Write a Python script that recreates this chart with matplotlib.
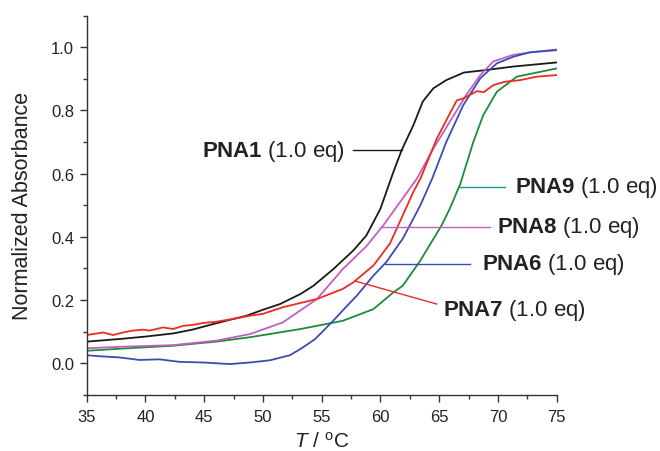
import numpy as np
import matplotlib
matplotlib.use("Agg")
import matplotlib.pyplot as plt
from matplotlib.ticker import MultipleLocator

plt.rcParams['font.family'] = ['Liberation Sans', 'DejaVu Sans']
plt.rcParams['mathtext.fontset'] = 'custom'
plt.rcParams['mathtext.rm'] = 'Liberation Sans'
plt.rcParams['mathtext.it'] = 'Liberation Sans:italic'
plt.rcParams['mathtext.bf'] = 'Liberation Sans:bold'

# ---- data ----
t_pna1 = [35, 38, 40, 42.35, 44, 45.8, 47.5, 48.6, 50, 51.45, 53.2, 54.3, 56.0, 57.7, 58.8, 60.0,
          61.1, 61.8, 62.8, 63.6, 64.5, 65.6, 67.1, 69.0, 71.3, 75]
v_pna1 = [0.068, 0.077, 0.084, 0.094, 0.106, 0.124, 0.140, 0.150, 0.169, 0.187, 0.219, 0.245, 0.298,
          0.357, 0.404, 0.489, 0.605, 0.674, 0.753, 0.828, 0.870, 0.896, 0.920, 0.928, 0.939, 0.952]

t_pna7 = [35, 35.54, 36.39, 37.24, 38.09, 38.94, 39.79, 40.36, 41.49, 42.34, 43.2, 44.05, 44.9,
          46.03, 47.45, 48.87, 50.0, 51.7, 54.6, 56.8, 57.7, 59.4, 60.8, 61.9, 62.8, 63.4, 64.8,
          65.9, 66.5, 67.05, 68.2, 68.8, 69.6, 70.6, 71.9, 73.3, 75]
v_pna7 = [0.089, 0.092, 0.097, 0.089, 0.097, 0.103, 0.106, 0.103, 0.113, 0.108, 0.118, 0.121, 0.127,
          0.131, 0.140, 0.150, 0.156, 0.177, 0.203, 0.235, 0.256, 0.309, 0.378, 0.468, 0.542, 0.584,
          0.711, 0.790, 0.832, 0.838, 0.861, 0.858, 0.880, 0.891, 0.896, 0.907, 0.912]

t_pna8 = [35, 38, 42.35, 46, 48.9, 51.7, 54.6, 56.8, 58.8, 60.24, 63.1, 64.5, 65.9, 67.3, 68.5,
          69.6, 71.3, 73, 75]
v_pna8 = [0.047, 0.052, 0.057, 0.071, 0.092, 0.129, 0.203, 0.298, 0.370, 0.436, 0.584, 0.679, 0.764,
          0.849, 0.912, 0.955, 0.976, 0.985, 0.993]

t_pna9 = [35, 38, 42.35, 46, 48.9, 53.2, 56.8, 59.4, 61.1, 61.9, 62.5, 63.4, 65.2, 65.9, 66.8, 67.9,
          68.75, 69.9, 71.6, 75]
v_pna9 = [0.039, 0.046, 0.055, 0.068, 0.082, 0.108, 0.134, 0.171, 0.224, 0.245, 0.277, 0.325, 0.436,
          0.489, 0.568, 0.700, 0.785, 0.859, 0.907, 0.933]

t_pna6 = [35, 36, 37.8, 39.5, 41.2, 42.9, 44.9, 47.2, 48.9, 50.6, 52.3, 53.2, 54.4, 55.0, 56.0, 57.0,
          58.0, 59.4, 60.5, 61.9, 63.4, 64.4, 65.6, 67.05, 68.5, 69.9, 71.3, 72.7, 75]
v_pna6 = [0.025, 0.022, 0.018, 0.010, 0.012, 0.004, 0.002, -0.003, 0.002, 0.009, 0.025, 0.045, 0.075,
          0.097, 0.135, 0.175, 0.214, 0.277, 0.320, 0.394, 0.500, 0.584, 0.700, 0.817, 0.902, 0.949,
          0.970, 0.984, 0.991]

x_ticks = [35, 40, 45, 50, 55, 60, 65, 70, 75]
y_ticks = [0.0, 0.2, 0.4, 0.6, 0.8, 1.0]

# ---- figure ----
fig = plt.figure(figsize=(6.6, 4.52), dpi=100)
ax = fig.add_axes([86.7 / 660, 56.3 / 452, 470 / 660, 379 / 452])

c_black = '#1a1a1a'
c_red = '#ee2b22'
c_pink = '#c060c0'
c_green = '#1e8a3a'
c_blue = '#3a4db4'
c_teal = '#1a9a8c'
lw = 1.3

ax.plot(t_pna1, v_pna1, color=c_black, lw=lw)
ax.plot(t_pna9, v_pna9, color=c_green, lw=lw)
ax.plot(t_pna8, v_pna8, color=c_pink, lw=lw)
ax.plot(t_pna6, v_pna6, color=c_blue, lw=lw)
ax.plot(t_pna7, v_pna7, color=c_red, lw=lw)

ax.set_xlim(35, 75)
ax.set_ylim(-0.1, 1.1)
ax.set_xticks(x_ticks)
ax.set_yticks(y_ticks)
ax.set_xticklabels([str(t) for t in x_ticks])
ax.set_yticklabels([f"{v:.1f}" for v in y_ticks])
ax.xaxis.set_minor_locator(MultipleLocator(2.5))
ax.yaxis.set_minor_locator(MultipleLocator(0.1))

spine_c = '#333333'
for s in ['top', 'right']:
    ax.spines[s].set_visible(False)
for s in ['left', 'bottom']:
    ax.spines[s].set_color(spine_c)
    ax.spines[s].set_linewidth(1.0)
ax.tick_params(which='major', direction='out', length=5, width=1.0, color=spine_c,
               labelsize=12, labelcolor='#222222')
ax.tick_params(axis='x', which='major', pad=5)
ax.tick_params(axis='y', which='major', pad=4)
ax.tick_params(which='minor', direction='out', length=3, width=1.0, color=spine_c)

ax.set_ylabel('Normalized Absorbance', fontsize=15.5, color='#222222', labelpad=13)
ax.set_xlabel(r'$\mathit{T}$ / $^{\mathrm{o}}$C', fontsize=15, color='#222222', labelpad=5)

# ---- curve labels ----
txt_c = '#222222'
fs = 16


def label(text, x, y, ha):
    ax.text(x, y, text, fontsize=fs, color=txt_c, ha=ha, va='center', clip_on=False)


def cross_T(ts, vs, level):
    return float(np.interp(level, vs, ts))

# PNA1
lv = 0.674
ax.plot([cross_T(t_pna1, v_pna1, lv), 57.66], [lv, lv], color=c_black, lw=1.0, clip_on=False)
label(r'$\mathbf{PNA1}$ (1.0 eq)', 56.98, lv, 'right')
# PNA9
lv = 0.558
ax.plot([cross_T(t_pna9, v_pna9, lv), 70.6], [lv, lv], color=c_teal, lw=1.0, clip_on=False)
label(r'$\mathbf{PNA9}$ (1.0 eq)', 71.45, lv, 'left')
# PNA8
lv = 0.431
ax.plot([cross_T(t_pna8, v_pna8, lv), 69.32], [lv, lv], color=c_pink, lw=1.0, clip_on=False)
label(r'$\mathbf{PNA8}$ (1.0 eq)', 69.89, lv, 'left')
# PNA6
lv = 0.314
ax.plot([cross_T(t_pna6, v_pna6, lv), 67.62], [lv, lv], color=c_blue, lw=1.0, clip_on=False)
label(r'$\mathbf{PNA6}$ (1.0 eq)', 68.62, lv, 'left')
# PNA7
t0 = 57.83
ax.plot([t0, 64.79], [float(np.interp(t0, t_pna7, v_pna7)), 0.187], color=c_red, lw=1.0, clip_on=False)
label(r'$\mathbf{PNA7}$ (1.0 eq)', 65.35, 0.171, 'left')

fig.savefig('out.png', dpi=100)
